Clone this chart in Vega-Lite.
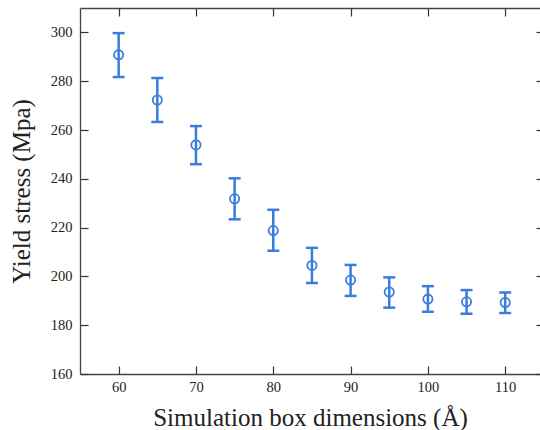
{
  "$schema": "https://vega.github.io/schema/vega-lite/v6.json",
  "width": 460,
  "height": 366,
  "autosize": {"type": "none"},
  "padding": {"left": 80, "top": 8, "right": 0, "bottom": 56},
  "background": "white",
  "config": {
    "view": {"stroke": null},
    "font": "Liberation Serif",
    "axis": {
      "grid": false,
      "domainColor": "#444444",
      "domainWidth": 1.3,
      "tickColor": "#333333",
      "tickWidth": 1.2,
      "labelColor": "#222222",
      "labelFont": "Liberation Serif",
      "labelFontSize": 14.5,
      "titleFont": "Liberation Serif",
      "titleFontSize": 25,
      "titleFontWeight": "normal",
      "titleColor": "#222222"
    }
  },
  "data": {
    "values": [
      {"size": 60, "stress": 290.8, "lo": 281.7, "hi": 299.7},
      {"size": 65, "stress": 272.3, "lo": 263.3, "hi": 281.3},
      {"size": 70, "stress": 253.9, "lo": 246.0, "hi": 261.6},
      {"size": 75, "stress": 231.8, "lo": 223.4, "hi": 240.2},
      {"size": 80, "stress": 218.8, "lo": 210.5, "hi": 227.3},
      {"size": 85, "stress": 204.5, "lo": 197.3, "hi": 211.7},
      {"size": 90, "stress": 198.5, "lo": 192.0, "hi": 204.7},
      {"size": 95, "stress": 193.6, "lo": 187.2, "hi": 199.6},
      {"size": 100, "stress": 190.7, "lo": 185.5, "hi": 196.0},
      {"size": 105, "stress": 189.6, "lo": 184.7, "hi": 194.4},
      {"size": 110, "stress": 189.3, "lo": 185.0, "hi": 193.4}
    ]
  },
  "layer": [
    {
      "mark": {"type": "rule", "color": "#3b7ddd", "strokeWidth": 2.5},
      "encoding": {
        "x": {
          "field": "size", "type": "quantitative",
          "scale": {"domain": [55, 114.5], "nice": false, "zero": false},
          "axis": {
            "orient": "bottom",
            "values": [60, 70, 80, 90, 100, 110],
            "tickSize": -8,
            "labelPadding": 14,
            "title": "Simulation box dimensions (Å)",
            "titlePadding": 12
          }
        },
        "y": {
          "field": "lo", "type": "quantitative",
          "scale": {"domain": [160, 310], "nice": false, "zero": false},
          "axis": {
            "orient": "left",
            "values": [160, 180, 200, 220, 240, 260, 280, 300],
            "tickSize": -8,
            "labelPadding": 16,
            "title": "Yield stress (Mpa)",
            "titlePadding": 16
          }
        },
        "y2": {"field": "hi"}
      }
    },
    {
      "mark": {"type": "tick", "orient": "horizontal", "size": 12, "thickness": 2.5, "color": "#3b7ddd", "opacity": 1},
      "encoding": {
        "x": {"field": "size", "type": "quantitative", "axis": null},
        "y": {"field": "lo", "type": "quantitative", "axis": null}
      }
    },
    {
      "mark": {"type": "tick", "orient": "horizontal", "size": 12, "thickness": 2.5, "color": "#3b7ddd", "opacity": 1},
      "encoding": {
        "x": {"field": "size", "type": "quantitative", "axis": null},
        "y": {"field": "hi", "type": "quantitative", "axis": null}
      }
    },
    {
      "mark": {"type": "point", "shape": "circle", "filled": false, "size": 85, "strokeWidth": 1.8, "color": "#3b7ddd", "opacity": 1},
      "encoding": {
        "x": {
          "field": "size", "type": "quantitative",
          "axis": {"orient": "top", "values": [60, 70, 80, 90, 100, 110], "tickSize": -8, "labels": false, "title": null}
        },
        "y": {
          "field": "stress", "type": "quantitative",
          "axis": {"orient": "right", "values": [160, 180, 200, 220, 240, 260, 280, 300], "tickSize": -4, "labels": false, "domain": false, "title": null}
        }
      }
    }
  ],
  "resolve": {"axis": {"x": "independent", "y": "independent"}}
}
